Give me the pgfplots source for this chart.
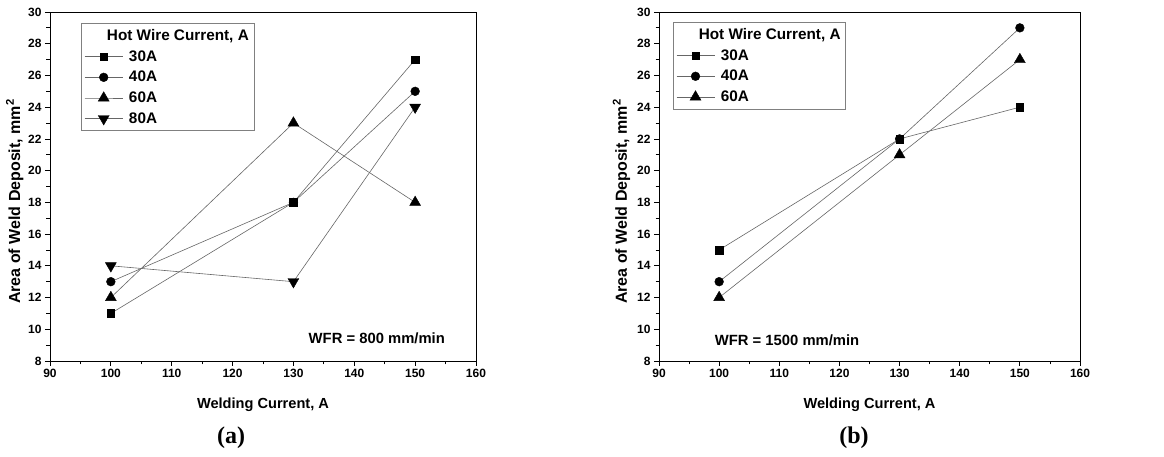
\documentclass[border=0pt]{standalone}
\usepackage{pgfplots}
\pgfplotsset{compat=1.18}
\usepackage{fontspec}
\setmainfont{Liberation Sans}
\newfontfamily\timesfont{Liberation Serif}

\pgfplotsset{
  myaxis/.style={
    scale only axis, height=349pt,
    xmin=90,xmax=160,ymin=8,ymax=30,
    xtick={90,100,...,160}, ytick={8,10,...,30},
    minor x tick num=1, minor y tick num=1,
    tick align=outside, tick pos=left,
    major tick length=5pt, minor tick length=3.5pt,
    axis line style={black, line width=0.9pt},
    every tick/.style={black, line width=0.8pt},
    tick label style={font=\fontsize{12}{14}\selectfont\bfseries},
    /pgf/number format/assume math mode=true,
    xlabel style={font=\fontsize{14.6}{16}\selectfont\bfseries},
    ylabel style={font=\fontsize{16}{18}\selectfont\bfseries},
    xlabel={Welding Current, A},
    ylabel={Area of Weld Deposit, mm\textsuperscript{2}},
    xlabel style={at={(axis description cs:0.5,-0.125)}, anchor=center},
    legend cell align=left,
    legend style={draw=gray, line width=0.6pt, font=\fontsize{15.3}{17}\selectfont\bfseries,
      row sep=4.5pt, inner xsep=3pt, inner ysep=4pt, anchor=north west,
      /tikz/every odd column/.append style={column sep=4pt}},
    legend image code/.code={\draw[mark repeat=2,mark phase=2] plot coordinates {(0pt,0pt)(19pt,0pt)(38pt,0pt)};},
    every axis plot/.append style={black!60, line width=0.6pt, mark options={black, fill=black, solid, line width=0.4pt}},
  },
  sq/.style={mark=square*, mark size=3.8pt},
  ci/.style={mark=*, mark size=4.4pt},
  tu/.style={mark=triangle*, mark size=6.3pt},
  td/.style={mark=triangle*, mark size=6.3pt, mark options={black, fill=black, solid, line width=0.4pt, rotate=180}},
}

\begin{document}
\begin{tikzpicture}
\useasboundingbox (0,0) rectangle (1164pt,457pt);
\begin{axis}[myaxis, width=426pt, at={(50pt,96pt)}, anchor=south west,
  ylabel style={at={(axis description cs:-0.083,0.457)}, anchor=center},
  legend style={at={(axis description cs:0.073,0.968)}},
  legend entries={{\hspace*{-22pt}Hot Wire Current, A},30A,40A,60A,80A}]
\addlegendimage{empty legend}
\addplot[sq] coordinates {(100,11) (130,18) (150,27)};
\addplot[ci] coordinates {(100,13) (130,18) (150,25)};
\addplot[tu] coordinates {(100,12) (130,23) (150,18)};
\addplot[td] coordinates {(100,14) (130,13) (150,24)};
\node[font=\fontsize{14.8}{16}\selectfont\bfseries] at (axis cs:143.7,9.45) {WFR = 800 mm/min};
\end{axis}
\begin{axis}[myaxis, width=421pt, at={(659pt,96pt)}, anchor=south west,
  ylabel style={at={(axis description cs:-0.089,0.457)}, anchor=center},
  legend style={at={(axis description cs:0.033,0.971)}},
  legend entries={{\hspace*{-22pt}Hot Wire Current, A},30A,40A,60A}]
\addlegendimage{empty legend}
\addplot[sq] coordinates {(100,15) (130,22) (150,24)};
\addplot[ci] coordinates {(100,13) (130,22) (150,29)};
\addplot[tu] coordinates {(100,12) (130,21) (150,27)};
\node[font=\fontsize{14.8}{16}\selectfont\bfseries] at (axis cs:111.3,9.3) {WFR = 1500 mm/min};
\end{axis}
\node[font=\timesfont\bfseries\fontsize{24}{28}\selectfont] at (231pt,19pt) {(a)};
\node[font=\timesfont\bfseries\fontsize{24}{28}\selectfont] at (854pt,19pt) {(b)};
\end{tikzpicture}
\end{document}
